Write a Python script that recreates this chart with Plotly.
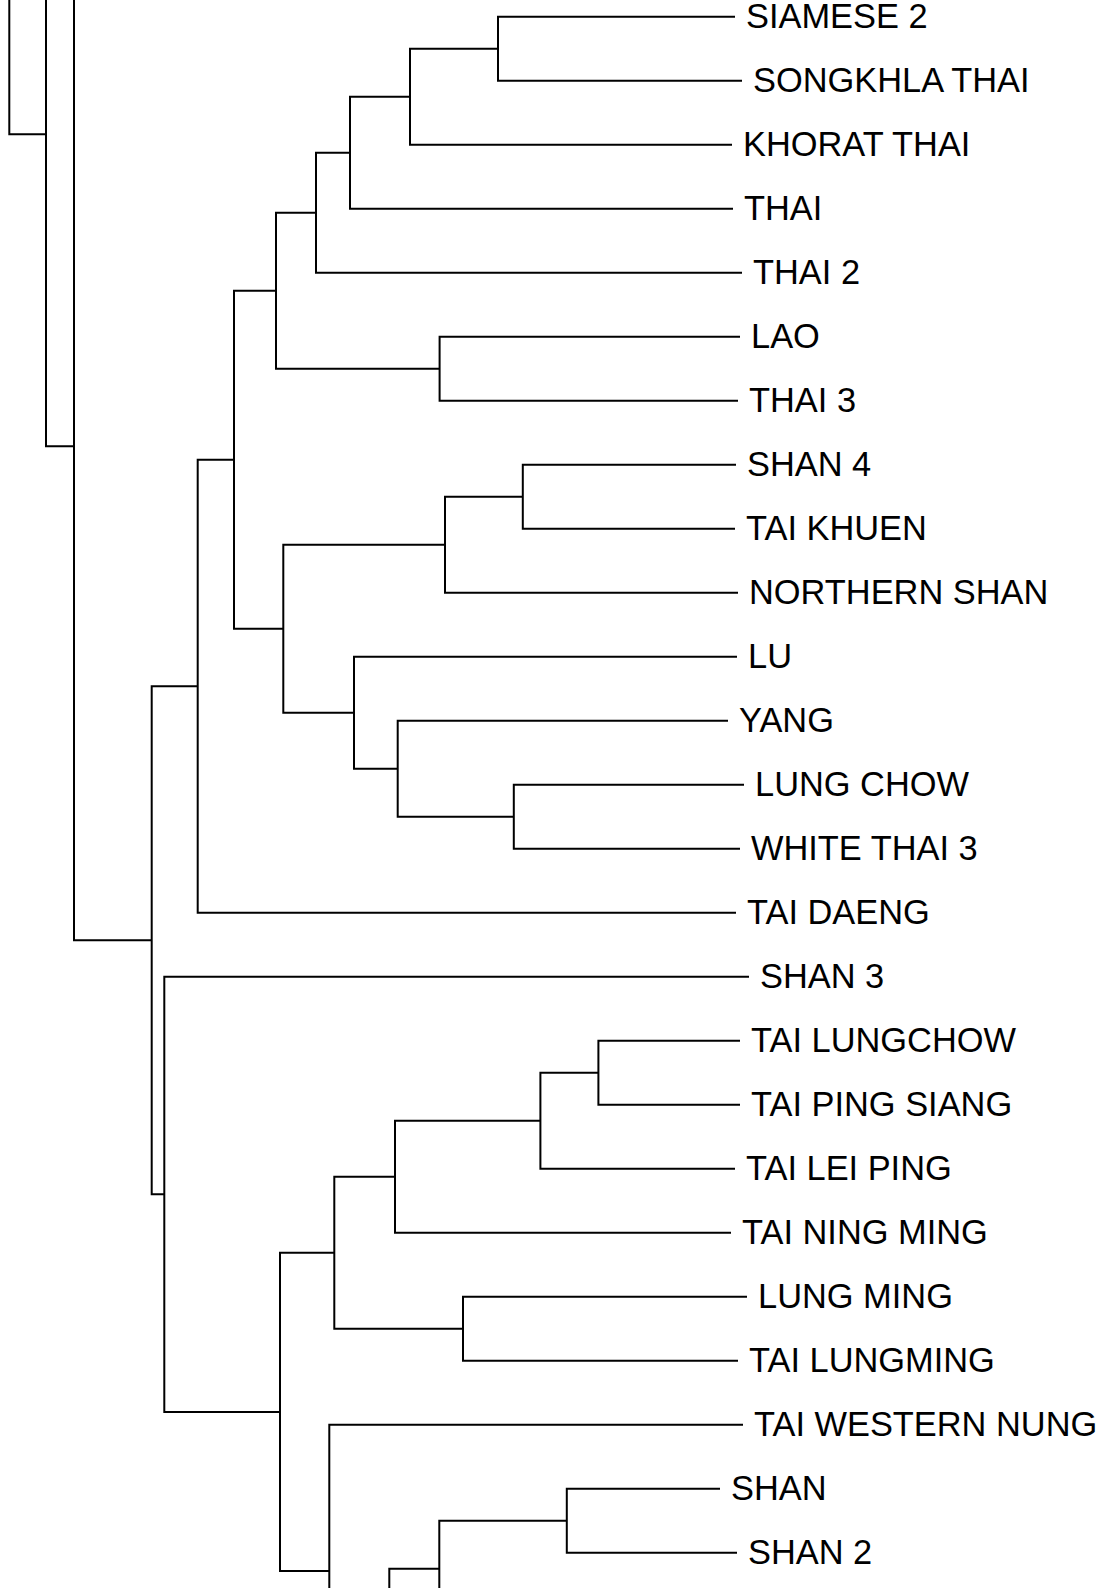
import plotly.graph_objects as go

# ---- data -------------------------------------------------------------
# visible leaves, top to bottom (leaf order = vertical position index)
leaf_labels = [
    "SIAMESE 2", "SONGKHLA THAI", "KHORAT THAI", "THAI", "THAI 2",
    "LAO", "THAI 3", "SHAN 4", "TAI KHUEN", "NORTHERN SHAN",
    "LU", "YANG", "LUNG CHOW", "WHITE THAI 3", "TAI DAENG",
    "SHAN 3", "TAI LUNGCHOW", "TAI PING SIANG", "TAI LEI PING", "TAI NING MING",
    "LUNG MING", "TAI LUNGMING", "TAI WESTERN NUNG", "SHAN", "SHAN 2",
]
# branch tip (leaf) depth, in horizontal distance units
leaf_tip_x = [
    735, 742, 732, 733, 742,
    740, 738, 736, 735, 738,
    737, 728, 744, 740, 736,
    749, 740, 740, 735, 731,
    747, 738, 743, 720, 737,
]

# branches continuing beyond the visible crop: name -> vertical position
stub_names = ["up0", "up1", "up2", "down0", "down1"]
stub_pos = [-6.0, -3.04, -1.01, 25.0, 28.9]

# internal nodes (children listed before parents)
node_names = ["A", "B", "C", "D", "E", "F", "G", "H", "I", "J", "K", "L", "M", "N",
              "U", "T", "S", "V", "R", "Z", "X", "Y", "W", "Q", "P", "O",
              "R74", "R46", "R9"]
node_x = [498, 410, 350, 316, 439.6, 276, 522.8, 445, 513.8, 397.7, 354, 283.3, 234, 197.7,
          598.4, 540.4, 395, 463, 334.3, 566.8, 439.3, 389.3, 329.3, 280, 164.3, 151.7,
          74, 46, 9.3]
node_children = [
    ("SIAMESE 2", "SONGKHLA THAI"), ("A", "KHORAT THAI"), ("B", "THAI"), ("C", "THAI 2"),
    ("LAO", "THAI 3"), ("D", "E"), ("SHAN 4", "TAI KHUEN"), ("G", "NORTHERN SHAN"),
    ("LUNG CHOW", "WHITE THAI 3"), ("YANG", "I"), ("LU", "J"), ("H", "K"), ("F", "L"),
    ("M", "TAI DAENG"),
    ("TAI LUNGCHOW", "TAI PING SIANG"), ("U", "TAI LEI PING"), ("T", "TAI NING MING"),
    ("LUNG MING", "TAI LUNGMING"), ("S", "V"), ("SHAN", "SHAN 2"), ("Z", "down0"),
    ("X", "down1"), ("TAI WESTERN NUNG", "Y"), ("R", "W"), ("SHAN 3", "Q"), ("N", "P"),
    ("up2", "O"), ("up1", "R74"), ("up0", "R46"),
]

# ---- build geometry through the tree ------------------------------------
pos_y = {}
pos_x = {}
for i, (lab, tx) in enumerate(zip(leaf_labels, leaf_tip_x)):
    pos_y[lab] = float(i)
    pos_x[lab] = tx
for n, p in zip(stub_names, stub_pos):
    pos_y[n] = p
    pos_x[n] = None

xs, ys = [], []
for name, nx, (c1, c2) in zip(node_names, node_x, node_children):
    y1, y2 = pos_y[c1], pos_y[c2]
    x1 = pos_x[c1] if pos_x[c1] is not None else nx
    x2 = pos_x[c2] if pos_x[c2] is not None else nx
    xs += [x1, nx, nx, x2, None]
    ys += [y1, y1, y2, y2, None]
    pos_y[name] = (y1 + y2) / 2.0
    pos_x[name] = nx

fig = go.Figure()
fig.add_trace(go.Scatter(
    x=xs, y=ys, mode="lines",
    line=dict(color="black", width=2),
    hoverinfo="skip", showlegend=False,
))

for lab, tx in zip(leaf_labels, leaf_tip_x):
    fig.add_annotation(
        x=tx + 11, y=pos_y[lab], xref="x", yref="y",
        text=lab, showarrow=False, xanchor="left", yanchor="middle",
        borderpad=0, borderwidth=0, yshift=1,
        font=dict(family="Arial, Liberation Sans, sans-serif", size=34.4, color="black"),
    )

W, H = 1103, 1588
top_px, step_px = 16.7, 64.0
fig.update_layout(
    width=W, height=H,
    margin=dict(l=0, r=0, t=0, b=0),
    paper_bgcolor="white", plot_bgcolor="white",
    xaxis=dict(range=[0, W], visible=False, fixedrange=True),
    yaxis=dict(range=[(H - top_px) / step_px, -top_px / step_px], visible=False, fixedrange=True),
    showlegend=False,
)

fig.write_html("out.html", config={"displayModeBar": False},
               post_script="document.body.style.margin='0';")
